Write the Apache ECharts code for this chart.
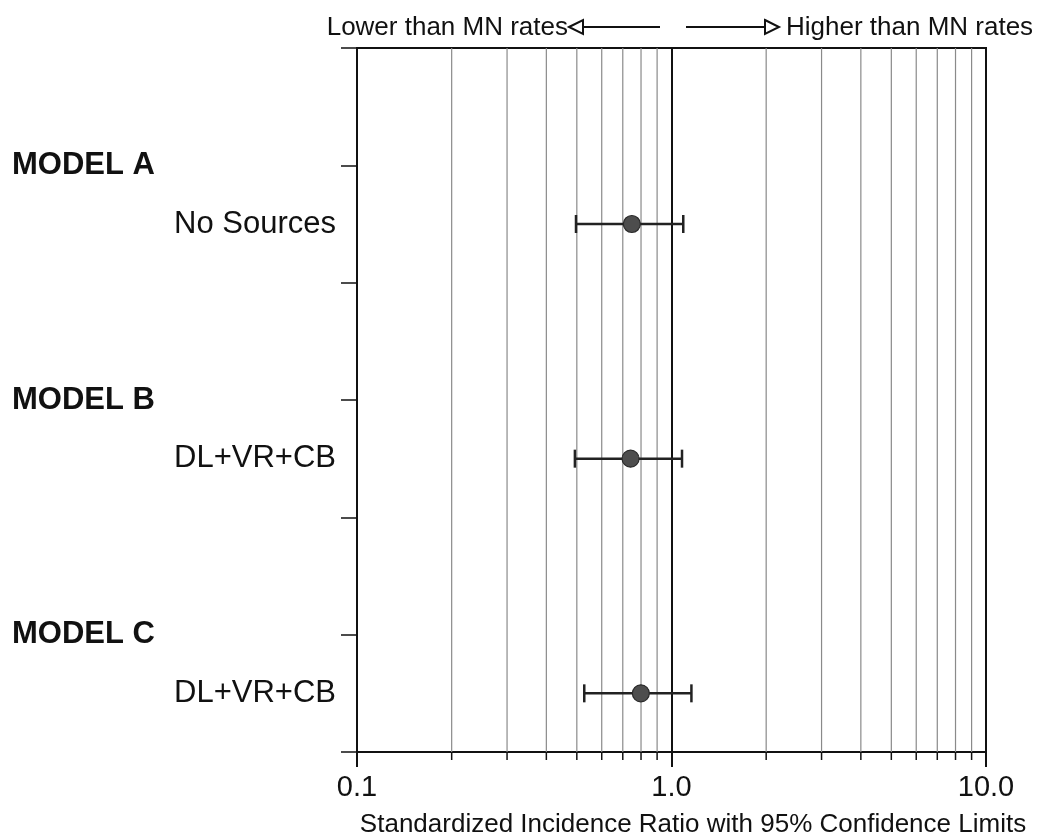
<!DOCTYPE html>
<html>
<head>
<meta charset="utf-8">
<script src="https://cdn.jsdelivr.net/npm/echarts@6/dist/echarts.min.js"></script>
<style>html,body{margin:0;padding:0;background:#fff}#c{width:1042px;height:840px}</style>
</head>
<body>
<div id="c"></div>
<script>
// ---- data ----
const models = ['MODEL A', 'MODEL B', 'MODEL C'];
const sources = ['No Sources', 'DL+VR+CB', 'DL+VR+CB'];
const sir = [0.748, 0.741, 0.799];
const lower = [0.497, 0.493, 0.528];
const upper = [1.09, 1.08, 1.157];
const majorTicks = [0.1, 1, 10];
const majorTickLabels = ['0.1', '1.0', '10.0'];
const minorGrid = [0.2, 0.3, 0.4, 0.5, 0.6, 0.7, 0.8, 0.9, 2, 3, 4, 5, 6, 7, 8, 9];
const xTitle = 'Standardized Incidence Ratio with 95% Confidence Limits';
const lowerNote = 'Lower than MN rates';
const higherNote = 'Higher than MN rates';

// ---- layout helpers (row placement on the y scale) ----
const n = models.length;
const yMax = 2 * n;
const modelPos = models.map((m, i) => 2 * (n - i) - 1);      // 5,3,1
const rowPos = models.map((m, i) => 2 * (n - i) - 1.5);      // 4.5,2.5,0.5

const FONT = '"Liberation Sans", Arial, Helvetica, sans-serif';

const chart = echarts.init(document.getElementById('c'), null, {renderer: 'canvas'});

const pointData = sir.map((v, i) => [v, rowPos[i]]);
const ciData = sir.map((v, i) => [lower[i], upper[i], rowPos[i]]);

const option = {
  animation: false,
  backgroundColor: '#ffffff',
  textStyle: {fontFamily: FONT},
  grid: {
    left: 357, width: 629, top: 48, height: 704,
    outerBoundsMode: 'none', containLabel: false,
    show: true, borderColor: '#111', borderWidth: 2, backgroundColor: 'transparent'
  },
  xAxis: {
    type: 'log', logBase: 10, min: 0.1, max: 10,
    name: xTitle,
    nameLocation: 'middle',
    nameGap: 60,
    nameTextStyle: {fontFamily: FONT, fontSize: 26, color: '#111', padding: [0, 0, 0, 43]},
    axisLine: {show: true, lineStyle: {color: '#111', width: 2}},
    axisTick: {show: true, length: 15, lineStyle: {color: '#111', width: 2}},
    axisLabel: {
      fontFamily: FONT, fontSize: 29, color: '#111', margin: 21,
      formatter: function (v) {
        const k = majorTicks.findIndex(t => Math.abs(t - v) / t < 1e-6);
        return k >= 0 ? majorTickLabels[k] : '';
      }
    },
    splitLine: {show: true, lineStyle: {color: '#111', width: 2}},
    minorTick: {show: false}
  },
  yAxis: [{
    type: 'value', min: 0, max: yMax, interval: 1,
    axisLine: {show: true, lineStyle: {color: '#111', width: 2}},
    axisTick: {show: true, length: 16, lineStyle: {color: '#111', width: 1.5}},
    splitLine: {show: false},
    axisLabel: {
      fontFamily: FONT, fontSize: 31, fontWeight: 'bold', color: '#111',
      align: 'left', margin: 345,
      formatter: function (v) {
        const k = modelPos.indexOf(v);
        return k >= 0 ? models[k] : '';
      }
    }
  }, {
    type: 'value', min: 0, max: yMax, interval: 0.5, position: 'left',
    axisLine: {show: false}, axisTick: {show: false}, splitLine: {show: false},
    axisLabel: {
      fontFamily: FONT, fontSize: 31, color: '#111', margin: 21,
      formatter: function (v) {
        const k = rowPos.indexOf(v);
        return k >= 0 ? sources[k] : '';
      }
    }
  }],
  graphic: [
    {type: 'text', style: {text: lowerNote, x: 568, y: 28, align: 'right', verticalAlign: 'middle', font: '26px ' + FONT, fill: '#111'}},
    {type: 'polygon', shape: {points: [[569, 27], [583, 20], [583, 34]]}, style: {fill: '#fff', stroke: '#111', lineWidth: 2}},
    {type: 'line', shape: {x1: 583, y1: 27, x2: 660, y2: 27}, style: {stroke: '#111', lineWidth: 2}},
    {type: 'line', shape: {x1: 686, y1: 27, x2: 765, y2: 27}, style: {stroke: '#111', lineWidth: 2}},
    {type: 'polygon', shape: {points: [[765, 20], [779, 27], [765, 34]]}, style: {fill: '#fff', stroke: '#111', lineWidth: 2}},
    {type: 'text', style: {text: higherNote, x: 786, y: 28, align: 'left', verticalAlign: 'middle', font: '26px ' + FONT, fill: '#111'}}
  ],
  series: [
    {
      // minor vertical grid lines + small ticks below the axis
      type: 'custom', xAxisIndex: 0, yAxisIndex: 0, silent: true, clip: false, z: 1,
      data: minorGrid.map(v => [v]),
      renderItem: function (params, api) {
        const v = api.value(0);
        const top = api.coord([v, yMax]);
        const bot = api.coord([v, 0]);
        return {
          type: 'group',
          children: [
            {type: 'line', shape: {x1: top[0], y1: top[1], x2: bot[0], y2: bot[1]}, style: {stroke: '#8a8a8a', lineWidth: 1.2}},
            {type: 'line', shape: {x1: bot[0], y1: bot[1], x2: bot[0], y2: bot[1] + 8}, style: {stroke: '#111', lineWidth: 1.5}}
          ]
        };
      }
    },
    {
      // confidence interval bars
      type: 'custom', xAxisIndex: 0, yAxisIndex: 0, silent: true, clip: false, z: 3,
      data: ciData,
      encode: {x: [0, 1], y: 2},
      renderItem: function (params, api) {
        const a = api.coord([api.value(0), api.value(2)]);
        const b = api.coord([api.value(1), api.value(2)]);
        const h = 9;
        const st = {stroke: '#222', lineWidth: 2.5};
        return {
          type: 'group',
          children: [
            {type: 'line', shape: {x1: a[0], y1: a[1], x2: b[0], y2: b[1]}, style: st},
            {type: 'line', shape: {x1: a[0], y1: a[1] - h, x2: a[0], y2: a[1] + h}, style: st},
            {type: 'line', shape: {x1: b[0], y1: b[1] - h, x2: b[0], y2: b[1] + h}, style: st}
          ]
        };
      }
    },
    {
      type: 'scatter', xAxisIndex: 0, yAxisIndex: 0, z: 5,
      data: pointData,
      symbol: 'circle', symbolSize: 17,
      itemStyle: {color: '#4d4d4d', borderColor: '#2a2a2a', borderWidth: 1.2, opacity: 1}
    }
  ]
};
chart.setOption(option);
</script>
</body>
</html>
